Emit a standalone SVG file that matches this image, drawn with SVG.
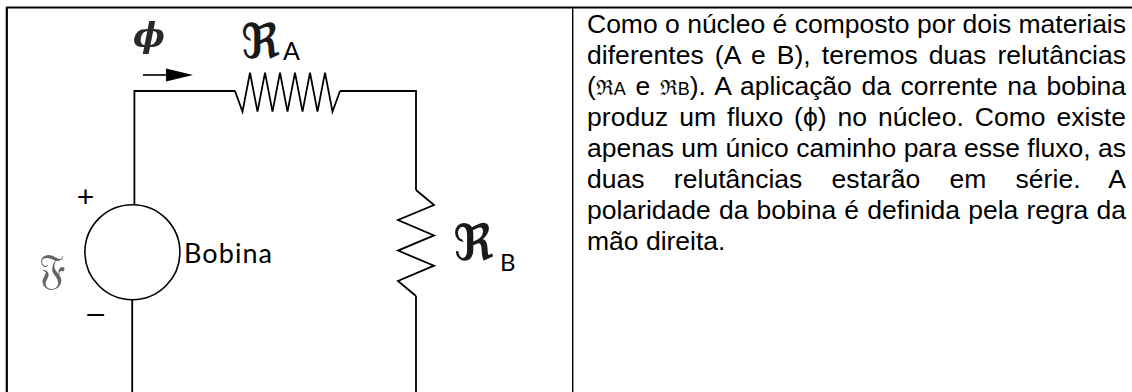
<svg xmlns="http://www.w3.org/2000/svg" width="1132" height="392" viewBox="0 0 1132 392">
<defs>
<style>
.w{fill:none;stroke:#000;stroke-width:1.8;stroke-linejoin:miter}
.t{font-family:"Liberation Sans",Arial,sans-serif;font-size:26.5px;fill:#000}
.lbl{font-family:Lato,"Liberation Sans",sans-serif;fill:#000}
.pm{font-family:"Liberation Sans",Arial,sans-serif;fill:#000}
.fr{font-family:"DejaVu Serif","DejaVu Sans",serif;font-weight:bold;fill:#1a1a1a}
.sym{font-family:"DejaVu Serif",serif}
</style>
<filter id="soft" x="-20%" y="-20%" width="140%" height="140%"><feGaussianBlur stdDeviation="0.7"/></filter>
</defs>
<rect width="1132" height="392" fill="#fff"/>
<g id="frame" fill="none" stroke="#000">
<path d="M6,7.5 H1132" stroke-width="2.2"/>
<path d="M6.8,7 V392" stroke-width="2.2"/>
<path d="M572.7,7.5 V392" stroke-width="1.4"/>
</g>
<g id="connectors">
<path class="w" d="M134.4,204.7 V91 H235"/>
<path class="w" d="M340,91 H416 V190"/>
<path class="w" d="M416,296 V392"/>
<path class="w" d="M132.2,299.7 V392"/>
<g id="flux-arrow">
<path d="M143,75 H168" stroke="#000" stroke-width="1.6"/>
<polygon points="166,68.5 193,75 166,81.5" fill="#000"/>
</g>
</g>
<g id="resistorA">
<polyline class="w" points="235,91 242.5,111.7 250,72.7 257.5,111.7 265,72.7 272.5,111.7 280,72.7 287.5,111.7 295,72.7 302.5,111.7 310,72.7 317.5,111.7 325,72.7 332.5,111.7 340,91"/>
<text class="fr" x="241" y="58" font-size="48">ℜ</text>
<text class="lbl" x="283" y="60" font-size="25">A</text>
</g>
<g id="resistorB">
<polyline class="w" points="416,190 434,205 398,220 434,235.4 398,250.6 434,265.7 398,280.9 416,296"/>
<text class="fr" x="453" y="260" font-size="50">ℜ</text>
<text class="lbl" x="500" y="271" font-size="24">B</text>
</g>
<g id="bobina">
<circle cx="132.4" cy="252.2" r="47.5" fill="none" stroke="#000" stroke-width="1.6"/>
<text class="lbl" x="184" y="262.7" font-size="27" textLength="88" lengthAdjust="spacing">Bobina</text>
<text class="pm" x="85.5" y="207" font-size="30" text-anchor="middle">+</text>
<text class="pm" x="95.5" y="323" font-size="30" text-anchor="middle">–</text>
<text class="sym" x="52" y="284" font-size="42" text-anchor="middle" fill="#666" filter="url(#soft)">𝔉</text>
</g>
<g id="phi-label">
<text class="sym" x="149" y="47" font-size="34" font-style="italic" font-weight="bold" text-anchor="middle" fill="#2a2a2a" filter="url(#soft)">ϕ</text>
</g>
<g id="description">
<text class="t" x="587" y="33" textLength="539" lengthAdjust="spacing">Como o núcleo é composto por dois materiais</text>
<text class="t" x="587" y="64" textLength="539" lengthAdjust="spacing" word-spacing="3.6">diferentes (A e B), teremos duas relutâncias</text>
<text class="t" x="587" y="95" textLength="539" lengthAdjust="spacing" word-spacing="2.3">(<tspan font-family="DejaVu Serif" font-size="21">ℜ</tspan><tspan font-size="18">A</tspan> e <tspan font-family="DejaVu Serif" font-size="21">ℜ</tspan><tspan font-size="18">B</tspan>). A aplicação da corrente na bobina</text>
<text class="t" x="587" y="126" textLength="539" lengthAdjust="spacing" word-spacing="3.4">produz um fluxo (ϕ) no núcleo. Como existe</text>
<text class="t" x="587" y="157" textLength="539" lengthAdjust="spacing">apenas um único caminho para esse fluxo, as</text>
<text class="t" x="587" y="188" textLength="539" lengthAdjust="spacing" word-spacing="21.8">duas relutâncias estarão em série. A</text>
<text class="t" x="587" y="219" textLength="539" lengthAdjust="spacing" word-spacing="0.8">polaridade da bobina é definida pela regra da</text>
<text class="t" x="587" y="250">mão direita.</text>
</g>
</svg>
